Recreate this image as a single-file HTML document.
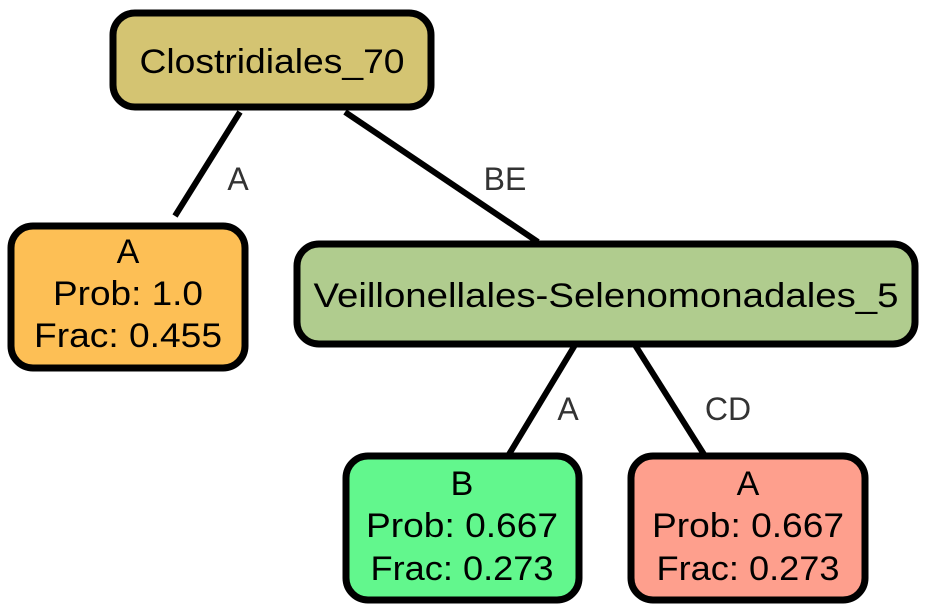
<!DOCTYPE html>
<html><head><style>
html,body{margin:0;padding:0;background:#fff;}
svg{display:block;}
text{font-family:"Liberation Sans",Arial,sans-serif;}
</style></head><body>
<svg width="928" height="613" viewBox="0 0 928 613" xmlns="http://www.w3.org/2000/svg">
<g stroke="#000" stroke-width="6" fill="none">
<line x1="240" y1="112" x2="175" y2="216"/>
<line x1="345" y1="112" x2="538" y2="242"/>
<line x1="575" y1="345" x2="508" y2="456"/>
<line x1="635" y1="345" x2="705" y2="456"/>
</g>
<g font-size="32" fill="#333" text-anchor="middle">
<text x="238" y="190">A</text>
<text x="505" y="190">BE</text>
<text x="568" y="420">A</text>
<text x="728" y="420">CD</text>
</g>
<g stroke="#000" stroke-width="7">
<rect x="113" y="13" width="318" height="94" rx="22" fill="#d4c472"/>
<rect x="11" y="226" width="234" height="142" rx="22" fill="#fdbf55"/>
<rect x="297" y="244" width="618" height="100" rx="22" fill="#b0cc8e"/>
<rect x="346" y="456" width="233" height="144" rx="22" fill="#62f78d"/>
<rect x="631" y="456" width="234" height="144" rx="22" fill="#fe9f8d"/>
</g>
<g font-size="34" fill="#000" text-anchor="middle">
<text x="272" y="73" textLength="265" lengthAdjust="spacingAndGlyphs">Clostridiales_70</text>
<text x="128" y="263">A</text>
<text x="128" y="305" textLength="150" lengthAdjust="spacingAndGlyphs">Prob: 1.0</text>
<text x="128" y="347" textLength="188" lengthAdjust="spacingAndGlyphs">Frac: 0.455</text>
<text x="606" y="307" textLength="585" lengthAdjust="spacingAndGlyphs">Veillonellales-Selenomonadales_5</text>
<text x="462" y="495">B</text>
<text x="462" y="537" textLength="192" lengthAdjust="spacingAndGlyphs">Prob: 0.667</text>
<text x="462" y="580" textLength="183" lengthAdjust="spacingAndGlyphs">Frac: 0.273</text>
<text x="748" y="495">A</text>
<text x="748" y="537" textLength="192" lengthAdjust="spacingAndGlyphs">Prob: 0.667</text>
<text x="748" y="580" textLength="183" lengthAdjust="spacingAndGlyphs">Frac: 0.273</text>
</g>
</svg>
</body></html>
